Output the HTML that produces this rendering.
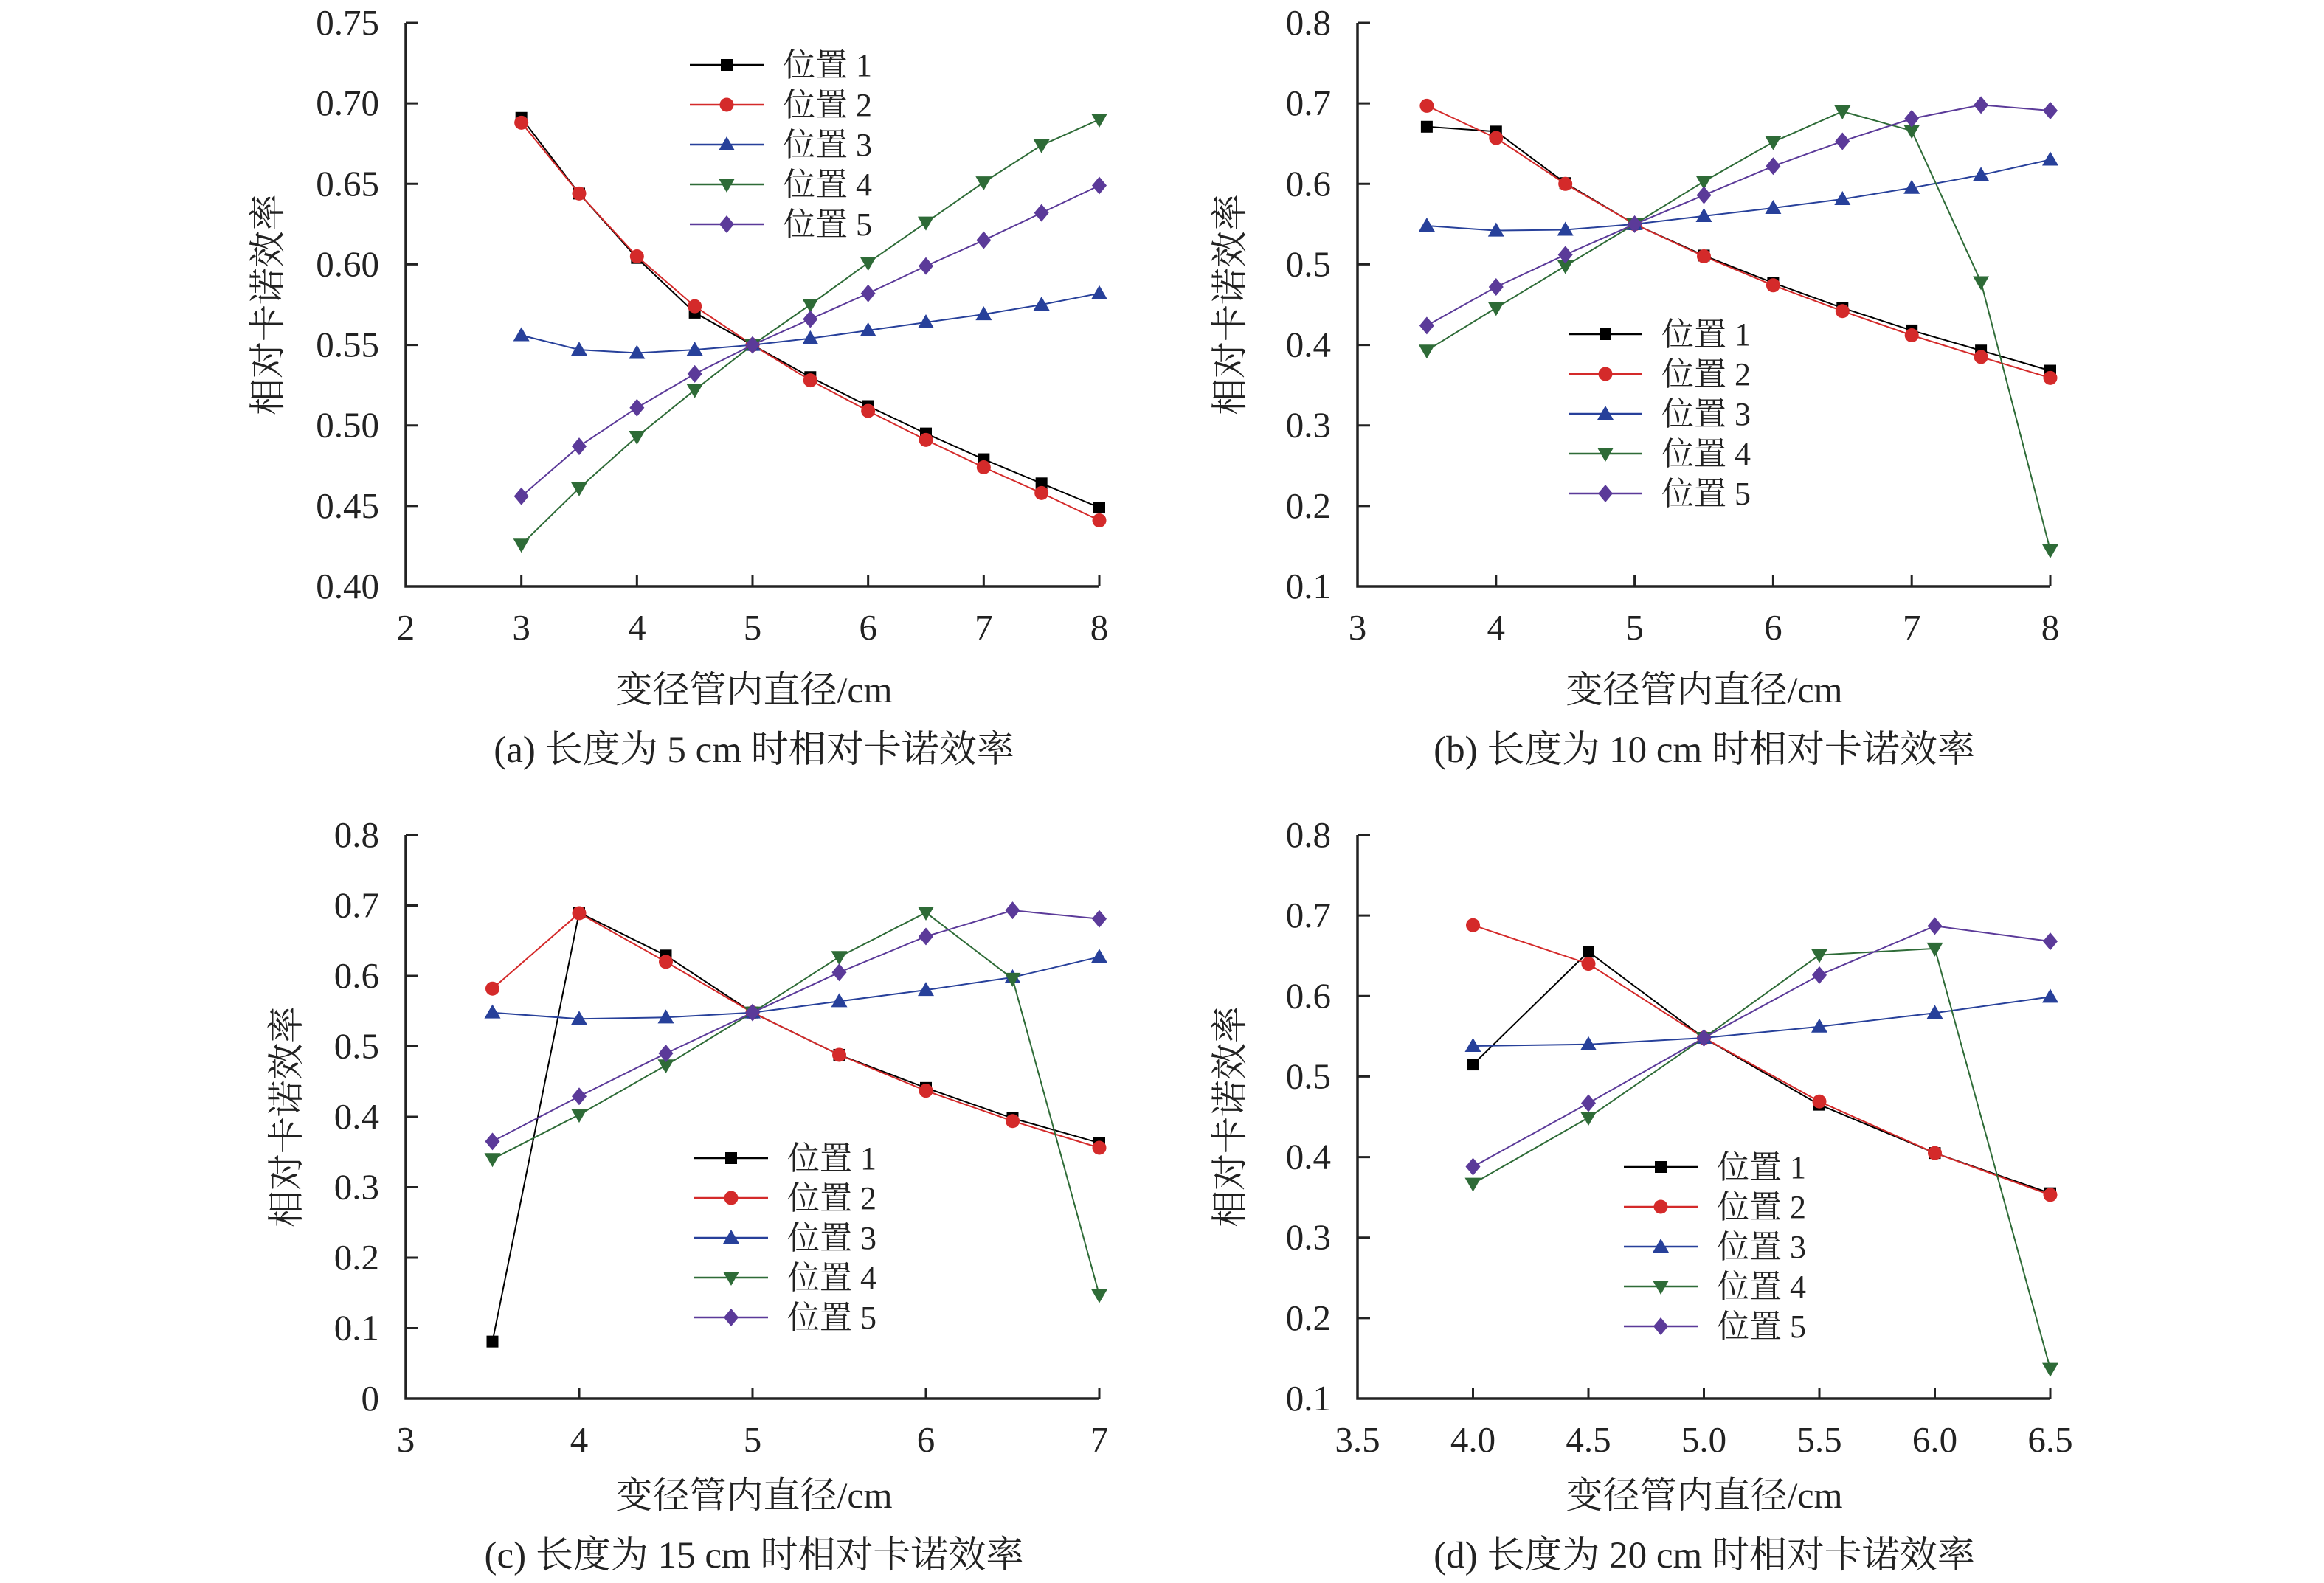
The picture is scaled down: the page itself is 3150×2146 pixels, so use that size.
<!DOCTYPE html>
<html><head><meta charset="utf-8">
<style>
html,body{margin:0;padding:0;background:#fff;}
svg{display:block;}
text{font-family:"Liberation Serif","Noto Serif CJK SC",serif;fill:#222;}
</style></head>
<body>
<svg id="fig" width="3150" height="2146" viewBox="0 0 3150 2146" xmlns="http://www.w3.org/2000/svg"></svg>
<script>
// ---- Data ----
const seriesNames = ["位置 1","位置 2","位置 3","位置 4","位置 5"];
const seriesColors = ["#000000","#d42a2a","#27409a","#2e6b37","#5b3a99"];
const markerTypes = ["square","circle","triangle","tridown","diamond"];

const aX = [3,3.5,4,4.5,5,5.5,6,6.5,7,7.5,8];
const aP1 = [.691,.644,.604,.570,.550,.530,.512,.495,.479,.464,.449];
const aP2 = [.688,.644,.605,.574,.550,.528,.509,.491,.474,.458,.441];
const aP3 = [.556,.547,.545,.547,.550,.554,.559,.564,.569,.575,.582];
const aP4 = [.426,.461,.493,.522,.550,.575,.601,.626,.651,.674,.690];
const aP5 = [.456,.487,.511,.532,.550,.566,.582,.599,.615,.632,.649];
const aXTicks = ["2","3","4","5","6","7","8"];
const aYTicks = ["0.40","0.45","0.50","0.55","0.60","0.65","0.70","0.75"];

const bX = [3.5,4,4.5,5,5.5,6,6.5,7,7.5,8];
const bP1 = [.671,.665,.601,.550,.511,.477,.446,.418,.393,.368];
const bP2 = [.697,.657,.600,.550,.510,.474,.442,.412,.385,.359];
const bP3 = [.548,.542,.543,.550,.560,.570,.581,.595,.611,.630];
const bP4 = [.393,.446,.498,.550,.603,.652,.690,.666,.478,.145];
const bP5 = [.424,.472,.512,.550,.586,.622,.653,.681,.698,.691];
const bXTicks = ["3","4","5","6","7","8"];
const bYTicks = ["0.1","0.2","0.3","0.4","0.5","0.6","0.7","0.8"];

const cX = [3.5,4,4.5,5,5.5,6,6.5,7];
const cP1 = [.081,.690,.629,.548,.488,.441,.398,.363];
const cP2 = [.582,.689,.620,.548,.488,.437,.394,.356];
const cP3 = [.548,.539,.541,.548,.564,.580,.598,.627];
const cP4 = [.340,.403,.473,.548,.627,.690,.596,.147];
const cP5 = [.365,.429,.490,.548,.605,.656,.693,.681];
const cXTicks = ["3","4","5","6","7"];
const cYTicks = ["0","0.1","0.2","0.3","0.4","0.5","0.6","0.7","0.8"];

const dX = [4,4.5,5,5.5,6,6.5];
const dP1 = [.515,.655,.548,.465,.405,.355];
const dP2 = [.688,.640,.548,.469,.405,.353];
const dP3 = [.538,.540,.548,.562,.579,.599];
const dP4 = [.367,.449,.548,.651,.659,.137];
const dP5 = [.388,.467,.548,.626,.687,.668];
const dXTicks = ["3.5","4.0","4.5","5.0","5.5","6.0","6.5"];
const dYTicks = ["0.1","0.2","0.3","0.4","0.5","0.6","0.7","0.8"];

// ---- Drawing ----
const NS="http://www.w3.org/2000/svg";
const svg=document.getElementById('fig');
function mk(tag,attrs,parent){const e=document.createElementNS(NS,tag);for(const k in attrs)e.setAttribute(k,attrs[k]);(parent||svg).appendChild(e);return e;}

function marker(g,type,cx,cy,color){
  let e;
  if(type==="square"){e=mk('rect',{x:cx-8,y:cy-8,width:16,height:16,fill:color},g);}
  else if(type==="circle"){e=mk('circle',{cx:cx,cy:cy,r:9.5,fill:color},g);}
  else if(type==="triangle"){e=mk('polygon',{points:`${cx},${cy-11} ${cx+11},${cy+8} ${cx-11},${cy+8}`,fill:color},g);}
  else if(type==="tridown"){e=mk('polygon',{points:`${cx},${cy+11} ${cx+11},${cy-8} ${cx-11},${cy-8}`,fill:color},g);}
  else {e=mk('polygon',{points:`${cx},${cy-12} ${cx+10},${cy} ${cx},${cy+12} ${cx-10},${cy}`,fill:color},g);}
  
  
  return e;
}

function panel(p){
  const g=mk('g',{});
  
  
  const L=p.left,R=p.right,T=p.top,B=p.bottom;
  const xMin=parseFloat(p.xTicks[0]),xMax=parseFloat(p.xTicks[p.xTicks.length-1]);
  const yMin=parseFloat(p.yTicks[0]),yMax=parseFloat(p.yTicks[p.yTicks.length-1]);
  const sx=v=>L+(v-xMin)/(xMax-xMin)*(R-L);
  const sy=v=>B-(v-yMin)/(yMax-yMin)*(B-T);
  const ax=mk('path',{d:`M${L},${T} L${L},${B} L${R},${B}`,fill:'none',stroke:'#222','stroke-width':3.5},g);
  
  
  p.yTicks.forEach(t=>{
    const y=sy(parseFloat(t));
    mk('line',{x1:L,x2:L+17,y1:y,y2:y,stroke:'#222','stroke-width':3},g);
    const tx=mk('text',{x:L-36,y:y+16,'text-anchor':'end','font-size':49},g);
    tx.textContent=t;
    
    
  });
  p.xTicks.forEach((t,i)=>{
    const x=sx(parseFloat(t));
    if(i>0) mk('line',{x1:x,x2:x,y1:B,y2:B-15,stroke:'#222','stroke-width':3},g);
    const tx=mk('text',{x:x,y:B+72,'text-anchor':'middle','font-size':49},g);
    tx.textContent=t;
    
    
  });
  p.series.forEach((s,k)=>{
    const sg=mk('g',{},g);
    
    
    const pts=p.x.map((xv,i)=>`${sx(xv).toFixed(1)},${sy(s[i]).toFixed(1)}`).join(' ');
    const pl=mk('polyline',{points:pts,fill:'none',stroke:seriesColors[k],'stroke-width':2},sg);
    
    
    p.x.forEach((xv,i)=>marker(sg,markerTypes[k],sx(xv),sy(s[i]),seriesColors[k]));
  });
  const lg=mk('g',{},g);
  
  
  seriesNames.forEach((n,k)=>{
    const y=p.legY+k*54;
    const eg=mk('g',{},lg);
    
    
    mk('line',{x1:p.legX,x2:p.legX+100,y1:y,y2:y,stroke:seriesColors[k],'stroke-width':2.5},eg);
    marker(eg,markerTypes[k],p.legX+50,y,seriesColors[k]);
    const tx=mk('text',{x:p.legX+126,y:y+15,'font-size':44},eg);
    tx.textContent=n;
  });
  const xt=mk('text',{x:p.titleX,y:B+157+p.tOff,'text-anchor':'middle','font-size':50},g);
  xt.textContent="变径管内直径/cm";
  
  
  const yt=mk('text',{x:0,y:0,'text-anchor':'middle','font-size':50,transform:`translate(${p.yTitleX},${(T+B)/2}) rotate(-90)`},g);
  yt.textContent="相对卡诺效率";
  
  
  const cap=mk('text',{x:p.titleX,y:B+238+p.tOff,'text-anchor':'middle','font-size':51},g);
  cap.textContent=p.caption;
  
  
}

panel({id:'a',left:550,right:1490,top:31,bottom:795,x:aX,series:[aP1,aP2,aP3,aP4,aP5],xTicks:aXTicks,yTicks:aYTicks,legX:935,legY:88,titleX:1022,yTitleX:380,tOff:0,caption:"(a) 长度为 5 cm 时相对卡诺效率"});
panel({id:'b',left:1840,right:2779,top:31,bottom:795,x:bX,series:[bP1,bP2,bP3,bP4,bP5],xTicks:bXTicks,yTicks:bYTicks,legX:2126,legY:453,titleX:2310,yTitleX:1684,tOff:0,caption:"(b) 长度为 10 cm 时相对卡诺效率"});
panel({id:'c',left:550,right:1490,top:1132,bottom:1896,x:cX,series:[cP1,cP2,cP3,cP4,cP5],xTicks:cXTicks,yTicks:cYTicks,legX:941,legY:1570,titleX:1022,yTitleX:405,tOff:-9,caption:"(c) 长度为 15 cm 时相对卡诺效率"});
panel({id:'d',left:1840,right:2779,top:1132,bottom:1896,x:dX,series:[dP1,dP2,dP3,dP4,dP5],xTicks:dXTicks,yTicks:dYTicks,legX:2201,legY:1582,titleX:2310,yTitleX:1684,tOff:-9,caption:"(d) 长度为 20 cm 时相对卡诺效率"});
</script>
</body></html>
